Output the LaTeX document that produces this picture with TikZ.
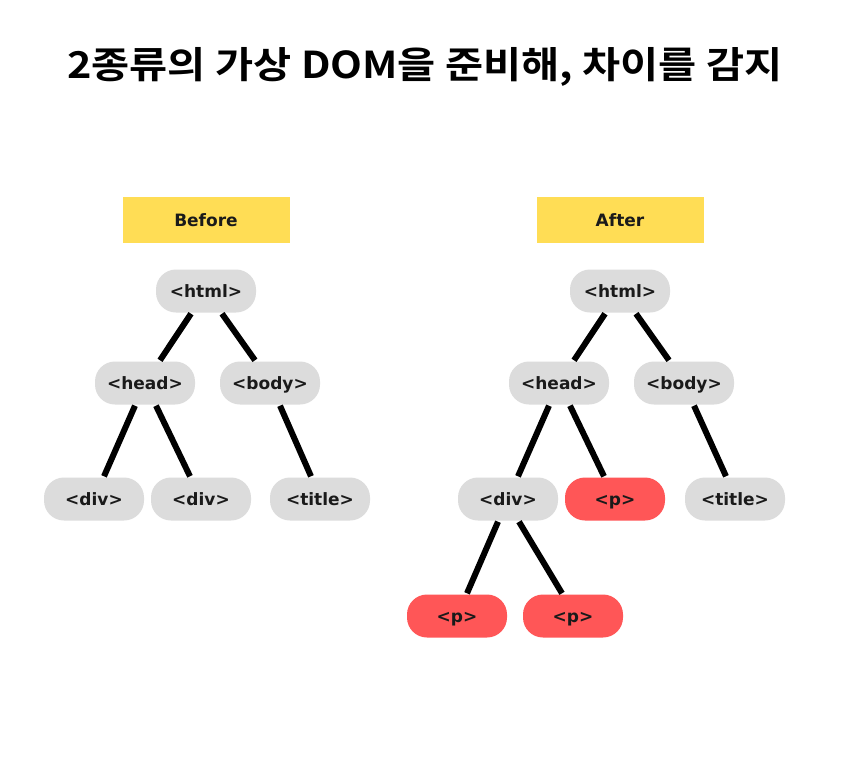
\documentclass[tikz,border=0pt]{standalone}
\usepackage{fontspec}
\setmainfont{DejaVu Sans}
\newfontfamily\krfont{Noto Sans CJK KR}[BoldFont={* Bold}]
\usetikzlibrary{calc}
\definecolor{pillgray}{HTML}{DCDCDC}
\definecolor{pillred}{HTML}{FF5657}
\definecolor{labelyellow}{HTML}{FFDD55}
\definecolor{txt}{HTML}{1A1A1A}
\begin{document}
\begin{tikzpicture}[x=1pt,y=-1pt,
  lbl/.style={inner sep=0pt,font=\fontsize{17}{19}\selectfont\bfseries,text=txt,text height=14.5pt,text depth=1pt},
  pill/.style={lbl,draw=none,fill=pillgray,rounded corners=20pt,minimum width=100pt,minimum height=43pt},
  redpill/.style={pill,fill=pillred},
  tag/.style={lbl,fill=labelyellow,minimum width=167pt,minimum height=46pt},
  edge/.style={line width=6pt,black}]
\useasboundingbox[fill=white] (0,0) rectangle (851,782);
\node[font=\krfont\fontsize{37}{42}\selectfont\bfseries,inner sep=0pt] (title) at (425,67) {\scalebox{1.12}[1]{2종류의 가상 DOM을 준비해, 차이를 감지}};
% Before
\node[tag] (before) at (206,220) {Before};
\node[pill] (bhtml) at (206,291) {<html>};
\node[pill] (bhead) at (145,383) {<head>};
\node[pill] (bbody) at (270,383) {<body>};
\node[pill] (bdiv1) at (94,499) {<div>};
\node[pill] (bdiv2) at (201,499) {<div>};
\node[pill] (btitle) at (320,499) {<title>};
\draw[edge] ($(bhtml.south)+(-15,1)$) -- ($(bhead.north)+(15,-1)$);
\draw[edge] ($(bhtml.south)+(16,1)$) -- ($(bbody.north)+(-15,-1)$);
\draw[edge] ($(bhead.south)+(-10,1)$) -- ($(bdiv1.north)+(10,-1)$);
\draw[edge] ($(bhead.south)+(11,1)$) -- ($(bdiv2.north)+(-11,-1)$);
\draw[edge] ($(bbody.south)+(10,1)$) -- ($(btitle.north)+(-9,-1)$);
% After
\node[tag] (after) at (620,220) {After};
\node[pill] (ahtml) at (620,291) {<html>};
\node[pill] (ahead) at (559,383) {<head>};
\node[pill] (abody) at (684,383) {<body>};
\node[pill] (adiv) at (508,499) {<div>};
\node[redpill] (ap) at (615,499) {<p>};
\node[pill] (atitle) at (735,499) {<title>};
\node[redpill] (ap1) at (457,616) {<p>};
\node[redpill] (ap2) at (573,616) {<p>};
\draw[edge] ($(ahtml.south)+(-15,1)$) -- ($(ahead.north)+(15,-1)$);
\draw[edge] ($(ahtml.south)+(16,1)$) -- ($(abody.north)+(-15,-1)$);
\draw[edge] ($(ahead.south)+(-10,1)$) -- ($(adiv.north)+(10,-1)$);
\draw[edge] ($(ahead.south)+(11,1)$) -- ($(ap.north)+(-11,-1)$);
\draw[edge] ($(abody.south)+(10,1)$) -- ($(atitle.north)+(-9,-1)$);
\draw[edge] ($(adiv.south)+(-10,1)$) -- ($(ap1.north)+(10,-1)$);
\draw[edge] ($(adiv.south)+(11,1)$) -- ($(ap2.north)+(-11,-1)$);
\end{tikzpicture}
\end{document}
